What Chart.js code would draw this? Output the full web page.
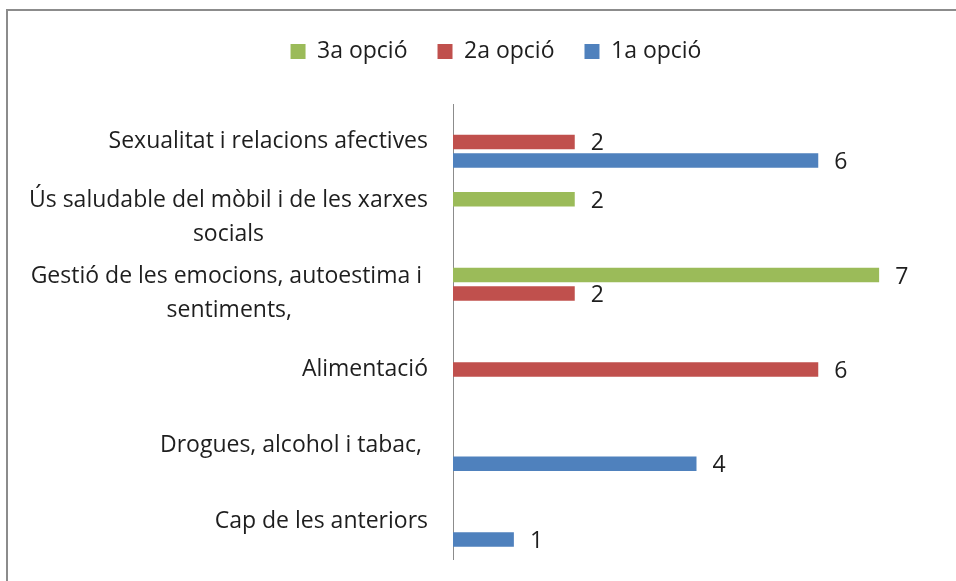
<!DOCTYPE html>
<html><head><meta charset="utf-8">
<script src="https://cdn.jsdelivr.net/npm/chart.js@4.4.1/dist/chart.umd.min.js"></script>
<style>
html,body{margin:0;padding:0;background:#fff;overflow:hidden}
#frame{position:absolute;left:6px;top:9px;width:960px;height:590px;border-top:2px solid #8c8c8c;border-left:2px solid #8c8c8c;}
#c{position:absolute;left:0;top:0}
</style></head><body>
<div id="frame"></div>
<canvas id="c" width="956" height="581"></canvas>
<script>
const categories = [
  ["Sexualitat i relacions afectives"],
  ["Ús saludable del mòbil i de les xarxes", "socials"],
  ["Gestió de les emocions, autoestima i ", "sentiments,"],
  ["Alimentació"],
  ["Drogues, alcohol i tabac, "],
  ["Cap de les anteriors"]
];
const seriesNames = ["3a opció", "2a opció", "1a opció"];
const opcio3 = [0, 2, 7, 0, 0, 0];
const opcio2 = [2, 0, 2, 6, 0, 0];
const opcio1 = [6, 0, 0, 0, 4, 1];
const seriesValues = [opcio3, opcio2, opcio1];
const seriesColors = ["#9BBB59", "#C0504D", "#4F81BD"];
const xMin = 0, xMax = 8;

const FAMILY = "Open Sans";
const SIZE = 23;
const FONT = SIZE + "px '" + FAMILY + "'";
const TEXT = "#1e1e1e";

const catLabels = {
  id: "catLabels",
  afterDraw(chart) {
    const ctx = chart.ctx, ys = chart.scales.y;
    ctx.save();
    ctx.font = FONT; ctx.fillStyle = TEXT; ctx.textBaseline = "middle"; ctx.textAlign = "center";
    const right = ys.right - 25;
    const lh = 34;
    categories.forEach((lines, i) => {
      const cy = ys.getPixelForTick(i);
      const w = Math.max(...lines.map(l => ctx.measureText(l).width));
      const cx = right - w / 2;
      const y0 = cy - (lines.length - 1) * lh / 2;
      lines.forEach((l, j) => ctx.fillText(l, cx, y0 + j * lh));
    });
    ctx.restore();
  }
};
const valueLabels = {
  id: "valueLabels",
  afterDatasetsDraw(chart) {
    const ctx = chart.ctx;
    ctx.save();
    ctx.font = FONT; ctx.fillStyle = TEXT; ctx.textAlign = "left"; ctx.textBaseline = "middle";
    chart.data.datasets.forEach((ds, di) => {
      chart.getDatasetMeta(di).data.forEach((bar, i) => {
        const v = ds.data[i];
        if (!v) return;
        ctx.fillText(String(v), bar.x + 16, bar.y + 2);
      });
    });
    ctx.restore();
  }
};

Chart.defaults.font.family = FAMILY;
Chart.defaults.font.size = SIZE;
Chart.defaults.color = TEXT;

new Chart(document.getElementById("c"), {
  type: "bar",
  data: {
    labels: categories,
    datasets: seriesNames.map((n, k) => ({
      label: n, data: seriesValues[k], backgroundColor: seriesColors[k],
      borderWidth: 0, categoryPercentage: 0.732, barPercentage: 0.78
    }))
  },
  options: {
    indexAxis: "y", responsive: false, animation: false,
    layout: { padding: { left: 52, right: 16, top: 10, bottom: 22 } },
    scales: {
      x: { position: "top", min: xMin, max: xMax, ticks: { display: false }, grid: { display: false }, border: { display: false },
           afterFit(s) { s.height = 31; } },
      y: { ticks: { display: false }, grid: { display: false }, border: { display: true, color: "#8c8c8c", width: 1 },
           afterFit(s) { s.width = 401; } }
    },
    plugins: {
      legend: { position: "top", labels: { boxWidth: 15, boxHeight: 15, padding: 30, font: { size: SIZE, family: FAMILY } } },
      tooltip: { enabled: false }
    }
  },
  plugins: [catLabels, valueLabels]
});
</script>
</body></html>
